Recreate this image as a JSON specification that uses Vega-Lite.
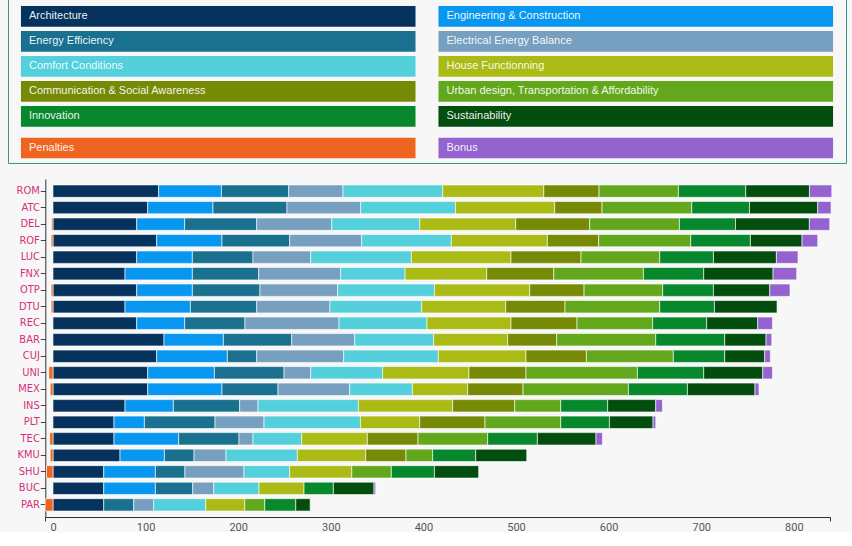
{
  "$schema": "https://vega.github.io/schema/vega-lite/v6.json",
  "background": "#f8f7f7",
  "padding": {"left": 7, "top": -9, "right": 7, "bottom": 0},
  "spacing": 15,
  "datasets": {
    "categories": [
      {"key": "arch", "name": "Architecture"},
      {"key": "eng", "name": "Engineering & Construction"},
      {"key": "ee", "name": "Energy Efficiency"},
      {"key": "elec", "name": "Electrical Energy Balance"},
      {"key": "comf", "name": "Comfort Conditions"},
      {"key": "house", "name": "House Functionning"},
      {"key": "comm", "name": "Communication & Social Awareness"},
      {"key": "urban", "name": "Urban design, Transportation & Affordability"},
      {"key": "innov", "name": "Innovation"},
      {"key": "sust", "name": "Sustainability"},
      {"key": "pen", "name": "Penalties"},
      {"key": "bonus", "name": "Bonus"}
    ],
    "scores": [
      {"team": "ROM", "arch": 114.1, "eng": 67.8, "ee": 72.6, "elec": 58.7, "comf": 107.7, "house": 109.1, "comm": 59.7, "urban": 85.7, "innov": 72.7, "sust": 68.8, "bonus": 24.1, "pen": 0},
      {"team": "ATC", "arch": 102.3, "eng": 70.5, "ee": 79.9, "elec": 79.6, "comf": 102.3, "house": 107.2, "comm": 51.1, "urban": 96.9, "innov": 62.3, "sust": 73.7, "bonus": 14.4, "pen": 0},
      {"team": "DEL", "arch": 90.4, "eng": 51.8, "ee": 77.8, "elec": 81.0, "comf": 95.0, "house": 103.7, "comm": 79.9, "urban": 96.9, "innov": 60.5, "sust": 79.8, "bonus": 22.0, "pen": -1.5},
      {"team": "ROF", "arch": 112.0, "eng": 70.5, "ee": 73.1, "elec": 77.8, "comf": 96.8, "house": 103.7, "comm": 55.4, "urban": 99.4, "innov": 64.4, "sust": 55.8, "bonus": 16.9, "pen": -2},
      {"team": "LUC", "arch": 90.4, "eng": 60.1, "ee": 65.5, "elec": 62.3, "comf": 108.7, "house": 107.6, "comm": 75.6, "urban": 85.0, "innov": 58.0, "sust": 68.0, "bonus": 23.3, "pen": 0},
      {"team": "FNX", "arch": 77.8, "eng": 72.7, "ee": 71.6, "elec": 88.6, "comf": 69.5, "house": 88.2, "comm": 72.4, "urban": 96.8, "innov": 65.1, "sust": 74.9, "bonus": 25.5, "pen": 0},
      {"team": "OTP", "arch": 90.4, "eng": 60.1, "ee": 73.0, "elec": 83.9, "comf": 104.5, "house": 102.9, "comm": 58.7, "urban": 84.9, "innov": 54.8, "sust": 60.8, "bonus": 21.9, "pen": -2},
      {"team": "DTU", "arch": 77.8, "eng": 70.6, "ee": 71.6, "elec": 79.1, "comf": 99.1, "house": 90.7, "comm": 64.0, "urban": 102.3, "innov": 59.1, "sust": 67.6, "bonus": 0, "pen": -2},
      {"team": "REC", "arch": 90.4, "eng": 51.8, "ee": 65.1, "elec": 101.6, "comf": 95.0, "house": 90.7, "comm": 71.3, "urban": 81.7, "innov": 58.3, "sust": 55.1, "bonus": 15.9, "pen": 0},
      {"team": "BAR", "arch": 119.9, "eng": 64.1, "ee": 73.8, "elec": 68.0, "comf": 85.3, "house": 79.9, "comm": 52.9, "urban": 107.0, "innov": 74.5, "sust": 44.6, "bonus": 6.2, "pen": 0},
      {"team": "CUJ", "arch": 112.0, "eng": 76.3, "ee": 31.7, "elec": 93.9, "comf": 102.3, "house": 94.6, "comm": 65.2, "urban": 93.9, "innov": 55.5, "sust": 43.2, "bonus": 6.1, "pen": 0},
      {"team": "UNI", "arch": 102.3, "eng": 72.0, "ee": 75.2, "elec": 28.8, "comf": 77.7, "house": 93.2, "comm": 61.6, "urban": 120.3, "innov": 71.6, "sust": 63.8, "bonus": 10.4, "pen": -4.5},
      {"team": "MEX", "arch": 102.3, "eng": 80.2, "ee": 60.5, "elec": 77.4, "comf": 67.7, "house": 59.7, "comm": 59.8, "urban": 113.8, "innov": 63.7, "sust": 73.0, "bonus": 4.3, "pen": -3},
      {"team": "INS", "arch": 77.8, "eng": 52.2, "ee": 71.6, "elec": 19.8, "comf": 108.4, "house": 101.8, "comm": 67.0, "urban": 49.7, "innov": 50.7, "sust": 51.9, "bonus": 7.2, "pen": 0},
      {"team": "PLT", "arch": 65.9, "eng": 32.8, "ee": 76.3, "elec": 52.9, "comf": 104.1, "house": 64.0, "comm": 70.5, "urban": 81.8, "innov": 52.6, "sust": 47.1, "bonus": 2.9, "pen": 0},
      {"team": "TEC", "arch": 65.9, "eng": 69.8, "ee": 65.2, "elec": 15.1, "comf": 52.6, "house": 70.9, "comm": 54.7, "urban": 75.2, "innov": 53.7, "sust": 63.3, "bonus": 6.9, "pen": -3.5},
      {"team": "KMU", "arch": 72.4, "eng": 47.9, "ee": 32.0, "elec": 34.5, "comf": 77.1, "house": 73.8, "comm": 43.5, "urban": 28.8, "innov": 46.5, "sust": 55.1, "bonus": 0, "pen": -3},
      {"team": "SHU", "arch": 54.8, "eng": 55.8, "ee": 31.9, "elec": 63.8, "comf": 49.3, "house": 67.0, "comm": 0, "urban": 42.8, "innov": 46.5, "sust": 47.8, "bonus": 0, "pen": -7},
      {"team": "BUC", "arch": 54.8, "eng": 55.8, "ee": 40.3, "elec": 22.7, "comf": 48.9, "house": 48.6, "comm": 0, "urban": 0, "innov": 31.7, "sust": 43.9, "bonus": 1.8, "pen": 0},
      {"team": "PAR", "arch": 54.8, "eng": 0, "ee": 32.4, "elec": 21.6, "comf": 56.2, "house": 42.1, "comm": 0, "urban": 21.6, "innov": 33.5, "sust": 15.5, "bonus": 0, "pen": -8.3}
    ]
  },
  "vconcat": [
    {
      "width": 838,
      "height": 171,
      "view": {"stroke": "#3a9488", "strokeWidth": 1},
      "data": {"name": "categories"},
      "transform": [
        {"window": [{"op": "row_number", "as": "i"}]},
        {"calculate": "(datum.i - 1) % 2", "as": "col"},
        {"calculate": "floor((datum.i - 1) / 2)", "as": "row"}
      ],
      "encoding": {
        "x": {
          "field": "col",
          "type": "nominal",
          "axis": null,
          "scale": {"paddingInner": 0.055, "paddingOuter": 0.031}
        }
      },
      "layer": [
        {
          "transform": [{"filter": "datum.row < 5"}],
          "encoding": {
            "y": {
              "field": "row",
              "type": "nominal",
              "axis": null,
              "scale": {"paddingInner": 0.172, "paddingOuter": 1.006, "align": 0.278}
            }
          },
          "layer": [
            {
              "mark": "rect",
              "encoding": {
                "color": {
                  "field": "name",
                  "type": "nominal",
                  "legend": null,
                  "scale": {
                    "domain": ["Architecture", "Engineering & Construction", "Energy Efficiency", "Electrical Energy Balance", "Comfort Conditions", "House Functionning", "Communication & Social Awareness", "Urban design, Transportation & Affordability", "Innovation", "Sustainability", "Penalties", "Bonus"],
                    "range": ["#06325e", "#0797f0", "#19718f", "#77a0c0", "#53d0dc", "#abbb15", "#768a06", "#63a81c", "#07882c", "#034e0f", "#ef6420", "#9463cf"]
                  }
                }
              }
            },
            {
              "mark": {"type": "text", "align": "left", "dx": 8, "fill": "#ffffff", "fillOpacity": 0.93, "font": "Liberation Sans, Arial, sans-serif", "fontSize": 11},
              "encoding": {
                "x": {"field": "col", "type": "nominal", "bandPosition": 0},
                "text": {"field": "name"}
              }
            }
          ]
        },
        {
          "transform": [{"filter": "datum.row == 5"}],
          "encoding": {
            "y": {
              "field": "row",
              "type": "nominal",
              "axis": null,
              "scale": {"paddingInner": 0.726, "paddingOuter": 1, "align": 0.969}
            }
          },
          "layer": [
            {
              "mark": "rect",
              "encoding": {
                "color": {
                  "field": "name",
                  "type": "nominal",
                  "legend": null,
                  "scale": {
                    "domain": ["Architecture", "Engineering & Construction", "Energy Efficiency", "Electrical Energy Balance", "Comfort Conditions", "House Functionning", "Communication & Social Awareness", "Urban design, Transportation & Affordability", "Innovation", "Sustainability", "Penalties", "Bonus"],
                    "range": ["#06325e", "#0797f0", "#19718f", "#77a0c0", "#53d0dc", "#abbb15", "#768a06", "#63a81c", "#07882c", "#034e0f", "#ef6420", "#9463cf"]
                  }
                }
              }
            },
            {
              "mark": {"type": "text", "align": "left", "dx": 8, "fill": "#ffffff", "fillOpacity": 0.93, "font": "Liberation Sans, Arial, sans-serif", "fontSize": 11},
              "encoding": {
                "x": {"field": "col", "type": "nominal", "bandPosition": 0},
                "text": {"field": "name"}
              }
            }
          ]
        }
      ],
      "resolve": {"scale": {"y": "independent"}}
    },
    {
      "width": 838,
      "height": 338,
      "view": {"stroke": null},
      "data": {"name": "scores"},
      "transform": [
        {"fold": ["arch", "eng", "ee", "elec", "comf", "house", "comm", "urban", "innov", "sust", "bonus", "pen"], "as": ["key", "value"]},
        {"filter": "datum.value != 0"},
        {"lookup": "key", "from": {"data": {"name": "categories"}, "key": "key", "fields": ["name"]}},
        {"calculate": "indexof(['pen','arch','eng','ee','elec','comf','house','comm','urban','innov','sust','bonus'], datum.key)", "as": "k"}
      ],
      "mark": {"type": "bar", "stroke": "#ffffff", "strokeWidth": 1, "strokeOpacity": 0.6},
      "encoding": {
        "y": {
          "field": "team",
          "type": "nominal",
          "sort": null,
          "title": null,
          "scale": {"paddingInner": 0.25, "paddingOuter": 0.36},
          "axis": {
            "offset": -37.3,
            "domainColor": "#333333",
            "tickColor": "#444444",
            "tickSize": 5,
            "labelPadding": 1,
            "labelColor": "#d3307c",
            "labelFont": "Liberation Sans Narrow, DejaVu Sans Condensed, Roboto, sans-serif",
            "labelFontSize": 11
          }
        },
        "x": {
          "field": "value",
          "type": "quantitative",
          "stack": "zero",
          "title": null,
          "scale": {"domain": [-8.3, 839.4], "range": [37.3, 822.3], "nice": false, "zero": false},
          "axis": {
            "values": [-8.3, 0, 100, 200, 300, 400, 500, 600, 700, 800, 839.4],
            "labelExpr": "datum.value < 0 || datum.value > 830 ? '' : datum.label",
            "tickOpacity": {"condition": {"test": "datum.value < 0 || datum.value > 830", "value": 1}, "value": 0},
            "tickSize": 4,
            "tickColor": "#333333",
            "domainColor": "#333333",
            "labelPadding": 0,
            "labelColor": "#555555",
            "labelFont": "Roboto, sans-serif",
            "labelFontSize": 11,
            "labelFlush": false,
            "labelOverlap": false,
            "grid": false
          }
        },
        "color": {
          "field": "name",
          "type": "nominal",
          "legend": null,
          "scale": {
            "domain": ["Architecture", "Engineering & Construction", "Energy Efficiency", "Electrical Energy Balance", "Comfort Conditions", "House Functionning", "Communication & Social Awareness", "Urban design, Transportation & Affordability", "Innovation", "Sustainability", "Penalties", "Bonus"],
            "range": ["#06325e", "#0797f0", "#19718f", "#77a0c0", "#53d0dc", "#abbb15", "#768a06", "#63a81c", "#07882c", "#034e0f", "#ef6420", "#9463cf"]
          }
        },
        "order": {"field": "k", "type": "quantitative"}
      }
    }
  ],
  "config": {
    "axis": {"grid": false}
  }
}
